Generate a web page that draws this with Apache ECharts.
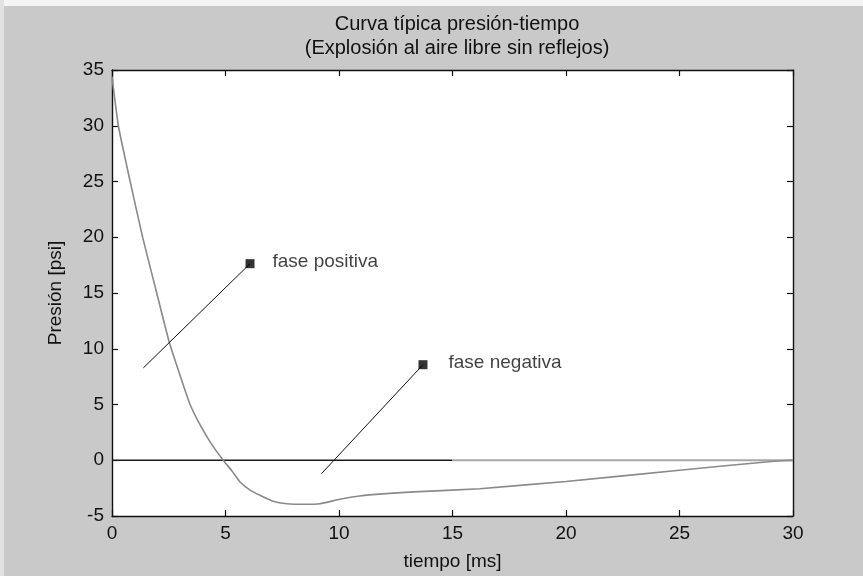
<!DOCTYPE html>
<html>
<head>
<meta charset="utf-8">
<script src="https://cdn.jsdelivr.net/npm/echarts@6/dist/echarts.min.js"></script>
<style>
  html, body { margin: 0; padding: 0; background: #c9c9c9; }
  #chart { width: 863px; height: 576px; }
</style>
</head>
<body>
<div id="chart"></div>
<script>
// ---- data ----
const titleLines = ['Curva típica presión-tiempo', '(Explosión al aire libre sin reflejos)'];
const xName = 'tiempo [ms]';
const yName = 'Presión [psi]';

const timeMs =      [0,    0.28, 0.8, 1.35, 1.97, 2.52, 3.0, 3.44, 3.9, 4.4, 4.9, 5.3,  5.64,  6.1,  6.52,  7.1,   7.7,  8.5,   9.16, 10.04, 10.9, 13.3,  16.2,  20,   25,   28.8,  30];
const pressurePsi = [34.4, 30,   25,  20,   15,   10.6, 7.6, 5.0,  3.1, 1.4, 0,   -1.0, -1.95, -2.7, -3.14, -3.68, -3.9, -3.95, -3.9, -3.5,  -3.2, -2.84, -2.55, -1.9, -0.9, -0.15, 0];

const zeroBlackX = [0, 15];
const zeroGrayX = [15, 30];

const annotNames  = ['fase positiva', 'fase negativa'];
const annotStartX = [1.38, 9.23];
const annotStartY = [8.28, -1.2];
const annotEndX   = [6.08, 13.7];
const annotEndY   = [17.63, 8.57];

const xTicks = { min: 0, max: 30, interval: 5 };
const yTicks = { min: -5, max: 35, interval: 5 };

// ---- chart ----
const FONT = 'Liberation Sans, Arial, Helvetica, sans-serif';
const chart = echarts.init(document.getElementById('chart'), null, { renderer: 'canvas' });

const curveData = timeMs.map((t, i) => [t, pressurePsi[i]]);

const annotSeries = [];
annotNames.forEach((name, i) => {
  annotSeries.push({
    type: 'line',
    data: [[annotStartX[i], annotStartY[i]], [annotEndX[i], annotEndY[i]]],
    symbol: 'none',
    lineStyle: { color: '#111', width: 1 },
    silent: true,
    z: 4
  });
  annotSeries.push({
    type: 'scatter',
    data: [[annotEndX[i], annotEndY[i]]],
    symbol: 'rect',
    symbolSize: 9,
    itemStyle: { color: '#000' },
    label: {
      show: true,
      position: 'right',
      distance: i === 0 ? 18 : 21,
      offset: [0, -2],
      formatter: name,
      color: '#111',
      fontFamily: FONT,
      fontSize: 19
    },
    silent: true,
    z: 5
  });
});

const axisLineStyle = { show: true, onZero: false, lineStyle: { color: '#111', width: 1.4 } };
const tickStyle = { show: true, inside: true, length: 6, lineStyle: { color: '#111', width: 1.2 } };

chart.setOption({
  backgroundColor: '#c9c9c9',
  animation: false,
  title: {
    text: titleLines.join('\n'),
    left: 452,
    top: 8,
    textAlign: 'center',
    textStyle: { fontFamily: FONT, fontSize: 20, fontWeight: 'normal', color: '#111', lineHeight: 23.5 }
  },
  graphic: [
    { type: 'rect', shape: { x: 0, y: 0, width: 863, height: 6 }, style: { fill: '#f4f4f4' }, silent: true, z: -10 },
    { type: 'rect', shape: { x: 0, y: 0, width: 4, height: 576 }, style: { fill: '#e2e2e2' }, silent: true, z: -10 }
  ],
  grid: {
    left: 112, right: 70, top: 70, bottom: 60,
    show: true, backgroundColor: '#ffffff', borderWidth: 0
  },
  xAxis: [
    {
      type: 'value', position: 'bottom', min: xTicks.min, max: xTicks.max, interval: xTicks.interval,
      name: xName, nameLocation: 'middle', nameGap: 36,
      nameTextStyle: { fontFamily: FONT, fontSize: 19, color: '#111' },
      axisLine: axisLineStyle, axisTick: tickStyle,
      axisLabel: { fontFamily: FONT, fontSize: 19, color: '#111', margin: 8 },
      splitLine: { show: false }
    },
    {
      type: 'value', position: 'top', min: xTicks.min, max: xTicks.max, interval: xTicks.interval,
      axisLine: axisLineStyle, axisTick: tickStyle,
      axisLabel: { show: false }, splitLine: { show: false }
    }
  ],
  yAxis: [
    {
      type: 'value', position: 'left', min: yTicks.min, max: yTicks.max, interval: yTicks.interval,
      name: yName, nameLocation: 'middle', nameGap: 47,
      nameTextStyle: { fontFamily: FONT, fontSize: 19, color: '#111' },
      axisLine: axisLineStyle, axisTick: tickStyle,
      axisLabel: { fontFamily: FONT, fontSize: 19, color: '#111', margin: 8 },
      splitLine: { show: false }
    },
    {
      type: 'value', position: 'right', min: yTicks.min, max: yTicks.max, interval: yTicks.interval,
      axisLine: axisLineStyle, axisTick: tickStyle,
      axisLabel: { show: false }, splitLine: { show: false }
    }
  ],
  series: [
    {
      type: 'line',
      data: zeroBlackX.map(x => [x, 0]),
      symbol: 'none',
      lineStyle: { color: '#1a1a1a', width: 1.5 },
      silent: true, z: 2
    },
    {
      type: 'line',
      data: zeroGrayX.map(x => [x, 0]),
      symbol: 'none',
      lineStyle: { color: '#a8a8a8', width: 2 },
      silent: true, z: 2
    },
    {
      type: 'line',
      data: curveData,
      symbol: 'none',
      smooth: 0.15,
      lineStyle: { color: '#8a8a8a', width: 1.6 },
      silent: true, z: 3
    },
    ...annotSeries
  ]
});
</script>
</body>
</html>
